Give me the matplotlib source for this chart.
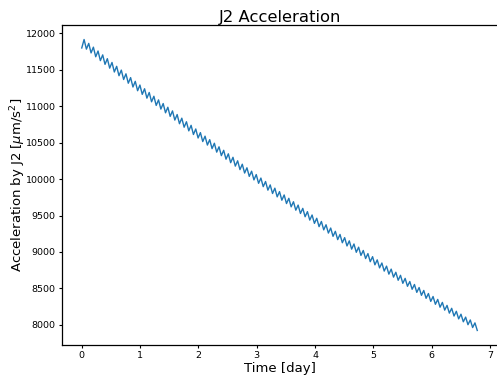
import numpy as np
import matplotlib
matplotlib.use("Agg")
import matplotlib.pyplot as plt
from matplotlib.lines import Line2D

# Sampled J2 acceleration magnitude (micrometres per second squared)
accel_um_s2 = [
    11800, 11916, 11784, 11863, 11732, 11811, 11679, 11758, 11626, 11705,
    11575, 11653, 11523, 11601, 11470, 11548, 11419, 11496, 11367, 11445,
    11316, 11393, 11264, 11342, 11213, 11291, 11163, 11240, 11111, 11189,
    11061, 11137, 11011, 11087, 10961, 11037, 10910, 10986, 10861, 10936,
    10810, 10886, 10760, 10836, 10712, 10787, 10662, 10738, 10612, 10688,
    10564, 10638, 10515, 10589, 10467, 10541, 10418, 10492, 10370, 10443,
    10322, 10395, 10273, 10347, 10225, 10299, 10178, 10251, 10130, 10204,
    10083, 10155, 10037, 10108, 9989, 10062, 9942, 10014, 9896, 9967,
    9848, 9920, 9802, 9875, 9756, 9828, 9710, 9782, 9664, 9736,
    9619, 9689, 9573, 9643, 9528, 9598, 9483, 9553, 9437, 9507,
    9392, 9462, 9347, 9418, 9303, 9373, 9259, 9328, 9214, 9283,
    9169, 9240, 9126, 9196, 9082, 9152, 9038, 9109, 8995, 9065,
    8952, 9020, 8909, 8977, 8866, 8935, 8823, 8891, 8781, 8848,
    8737, 8805, 8695, 8764, 8654, 8721, 8611, 8679, 8569, 8637,
    8528, 8594, 8487, 8553, 8445, 8511, 8404, 8471, 8363, 8429,
    8321, 8388, 8281, 8348, 8241, 8307, 8201, 8266, 8160, 8226,
    8120, 8185, 8081, 8145, 8041, 8105, 8001, 8066, 7962, 8026,
    7922,
]

# Samples are evenly spaced over the run
t_start_day = 0.0
t_end_day = 6.78
time_day = np.linspace(t_start_day, t_end_day, len(accel_um_s2))

fig = plt.figure(figsize=(4.9705, 3.7905), dpi=100, facecolor="white")
ax = fig.add_axes([0.1247, 0.0897, 0.8753, 0.8443])
ax.set_frame_on(False)

ax.plot(time_day, accel_um_s2, color="#1f77b4", linewidth=1.0)

ax.set_title("J2 Acceleration", fontsize=11.8, pad=2)
ax.set_xlabel("Time [day]", fontsize=9.5, labelpad=1)
ax.set_ylabel(r"Acceleration by J2 [$\mu$m/s$^2$]", fontsize=9.5, labelpad=-1.5)

ax.tick_params(axis="both", labelsize=6.8, length=2.5, pad=2)

# Open-sided frame: left, top and bottom edges of the plotting area
frame_style = dict(color="black", linewidth=0.9, transform=ax.transAxes,
                   clip_on=False, solid_capstyle="projecting")
for xs, ys in (([0, 0], [0, 1]), ([0, 0.999], [1, 1]), ([0, 0.999], [0, 0])):
    ax.add_line(Line2D(xs, ys, **frame_style))

fig.savefig("out.png", dpi=100, facecolor="white")
